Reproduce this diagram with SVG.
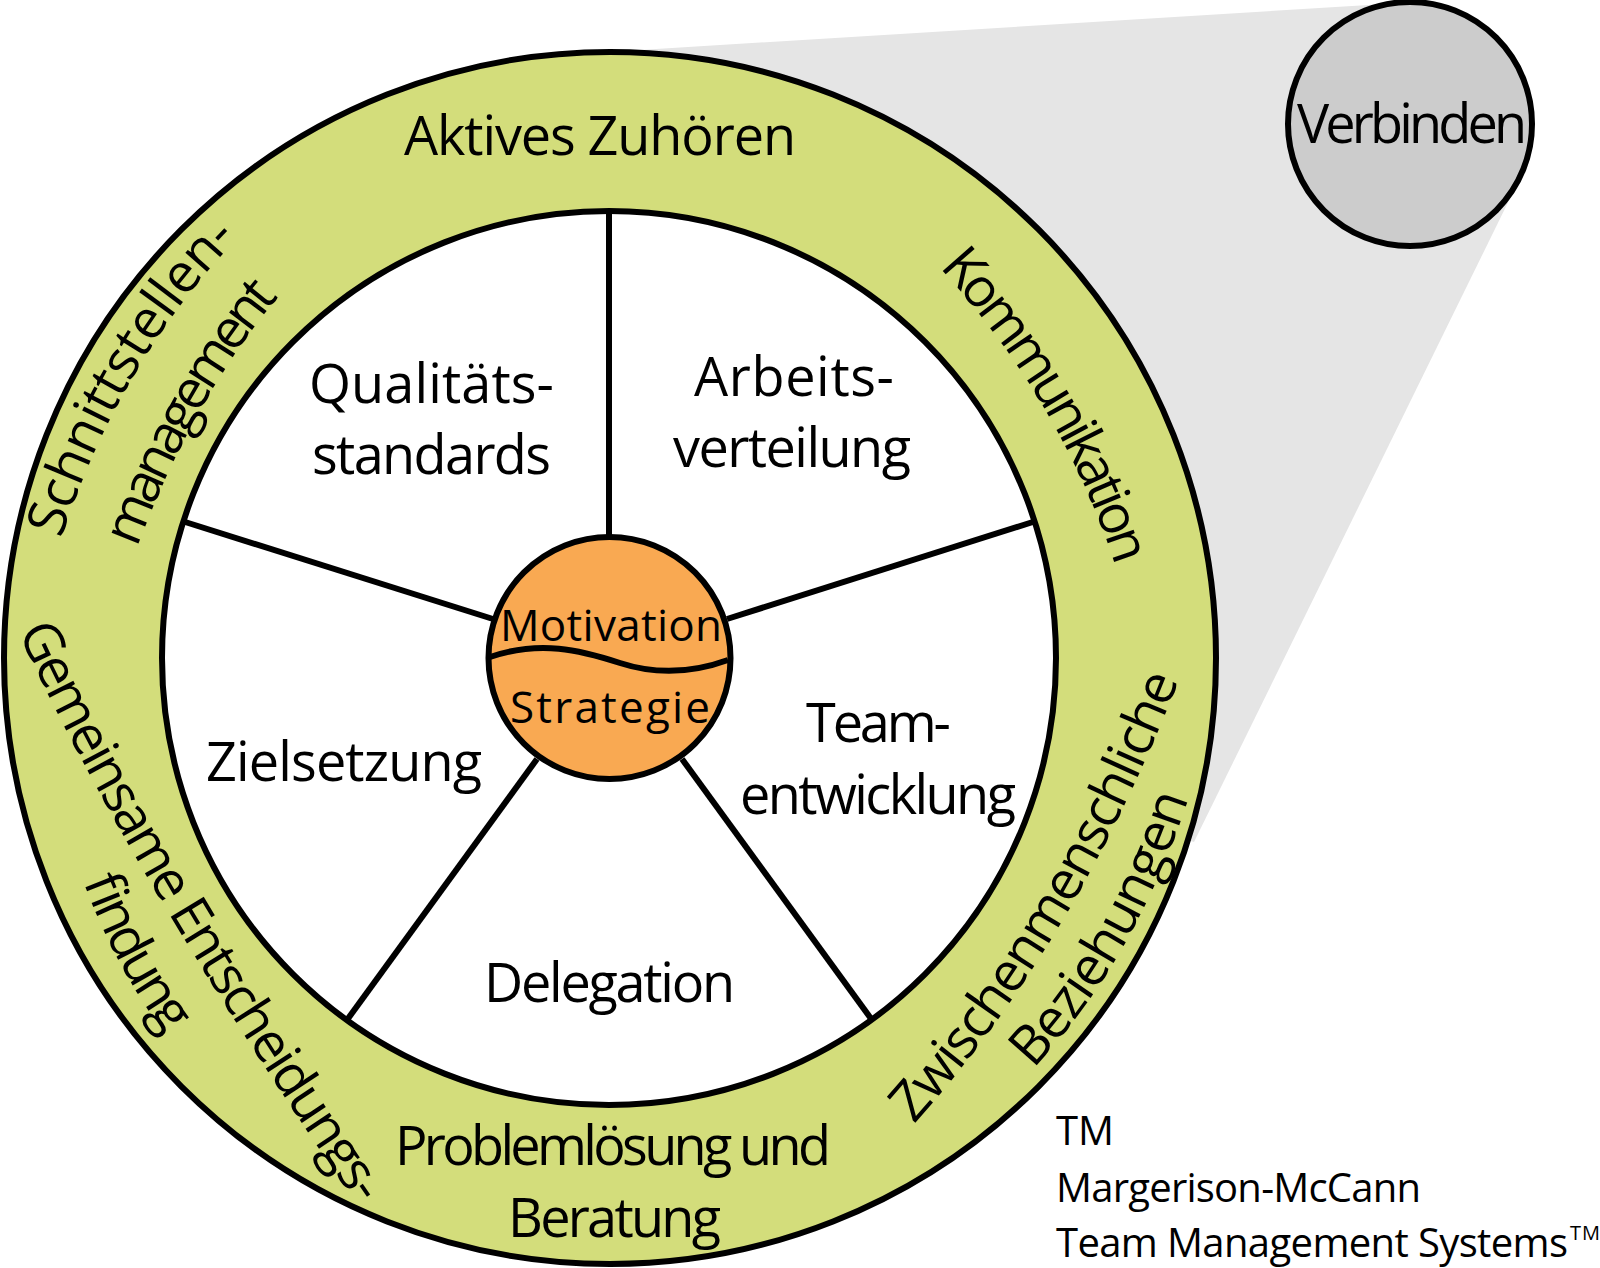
<svg xmlns="http://www.w3.org/2000/svg" width="1600" height="1268" viewBox="0 0 1600 1268">
<style>
text{font-family:"Open Sans","Noto Sans",sans-serif;font-size:54px;fill:#000}
.c{stroke:#000;stroke-width:6;fill:none}
.s{font-size:44px}
.f{font-size:40px}
.t{font-size:20px}
</style>
<defs>
<path id="p1" d="M61 539Q120 360 236 240L300 180"/>
<path id="p2" d="M137 548Q190 405 274 302L330 240"/>
<path id="p3" d="M939 267Q1060 400 1113 559L1140 650"/>
<path id="p4" d="M914 1124Q1075 945 1179 680L1200 590"/>
<path id="p5" d="M1033 1069Q1135 960 1188 800L1206 720"/>
<path id="p6" d="M18 632Q134 884 376 1232L420 1290"/>
<path id="p7" d="M82 878Q111 958 158 1024L200 1090"/>
</defs>
<rect width="1600" height="1268" fill="#fff"/>
<polygon points="609,658 640,50 1385,4 1520,178 1194,842" fill="#e5e5e5"/>
<g id="ring"><circle cx="610" cy="658" r="606" fill="#d3dd7b" stroke="#000" stroke-width="6"/>
<circle cx="609" cy="658" r="447" fill="#fff" stroke="#000" stroke-width="6"/></g>
<g id="connectors" class="c">
<line x1="609" y1="211" x2="609" y2="537"/>
<line x1="1036" y1="521" x2="727" y2="619"/>
<line x1="182" y1="521" x2="493" y2="619"/>
<line x1="347" y1="1020" x2="537" y2="759"/>
<line x1="872" y1="1020" x2="682" y2="759"/>
</g>
<g id="center"><circle cx="609.5" cy="658" r="121" fill="#f9a952" stroke="#000" stroke-width="6"/>
<path class="c" d="M490 657C540 640 580 650 620 663C660 676 695 672 728 660"/>
<text class="s" x="500" y="641" textLength="222">Motivation</text>
<text class="s" x="510" y="723" textLength="200">Strategie</text></g>
<g id="verbinden"><circle cx="1410" cy="124" r="122" fill="#ccc" stroke="#000" stroke-width="6"/>
<text x="1297" y="143" textLength="230">Verbinden</text></g>
<g id="labels">
<text x="404" y="155" textLength="392">Aktives Zuhören</text>
<text x="309" y="403" textLength="245">Qualitäts-</text>
<text x="312" y="474" textLength="239">standards</text>
<text x="694" y="396" textLength="200">Arbeits-</text>
<text x="673" y="467" textLength="238">verteilung</text>
<text x="806" y="742" textLength="145">Team-</text>
<text x="740" y="814" textLength="276">entwicklung</text>
<text x="206" y="781" textLength="276">Zielsetzung</text>
<text x="484" y="1002" textLength="251">Delegation</text>
<text x="395" y="1165" textLength="436">Problemlösung und</text>
<text x="508" y="1237" textLength="213">Beratung</text>
<text textLength="352"><textPath href="#p1">Schnittstellen-</textPath></text>
<text textLength="290"><textPath href="#p2">management</textPath></text>
<text textLength="350"><textPath href="#p3">Kommunikation</textPath></text>
<text textLength="520"><textPath href="#p4">Zwischenmenschliche</textPath></text>
<text textLength="315"><textPath href="#p5">Beziehungen</textPath></text>
<text textLength="668"><textPath href="#p6">Gemeinsame Entscheidungs-</textPath></text>
<text textLength="175"><textPath href="#p7">findung</textPath></text>
</g>
<g id="footer">
<text class="f" x="1056" y="1145" textLength="58">TM</text>
<text class="f" x="1056" y="1202" textLength="365">Margerison-McCann</text>
<text class="f" x="1056" y="1257" textLength="512">Team Management Systems</text>
<text class="t" x="1570" y="1240" textLength="30">TM</text>
</g>
</svg>
